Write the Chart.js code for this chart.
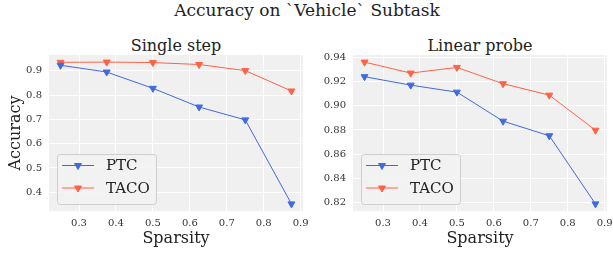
<!DOCTYPE html>
<html>
<head>
<meta charset="utf-8">
<script src="https://cdn.jsdelivr.net/npm/chart.js@4.4.0/dist/chart.umd.min.js"></script>
<style>
  body { margin: 0; background: #fff; width: 613px; height: 254px; position: relative; overflow: hidden;
         font-family: "DejaVu Serif", serif; color: #222; }
  .t { position: absolute; white-space: nowrap; transform: translate(-50%, -50%); line-height: 1; }
  canvas { position: absolute; top: 0; }
</style>
</head>
<body>
<div class="t" style="left:307px;top:10px;font-size:17px">Accuracy on `Vehicle` Subtask</div>
<div class="t" style="left:176px;top:46px;font-size:16px">Single step</div>
<div class="t" style="left:480px;top:46px;font-size:16px">Linear probe</div>
<canvas id="c1" width="316" height="254" style="left:0"></canvas>
<canvas id="c2" width="313" height="254" style="left:300px"></canvas>
<script>
// data
const seriesNames = ['PTC', 'TACO'];
const sparsity = [0.25, 0.375, 0.5, 0.625, 0.75, 0.875];
const singlePTC = [0.923, 0.895, 0.828, 0.751, 0.698, 0.352];
const singleTACO = [0.935, 0.936, 0.934, 0.926, 0.901, 0.817];
const probePTC = [0.9242, 0.9172, 0.9114, 0.8873, 0.8752, 0.8187];
const probeTACO = [0.9363, 0.9272, 0.9319, 0.9184, 0.9089, 0.8798];
const xTicks = [0.3, 0.4, 0.5, 0.6, 0.7, 0.8, 0.9];
const singleYTicks = [0.4, 0.5, 0.6, 0.7, 0.8, 0.9];
const probeYTicks = [0.82, 0.84, 0.86, 0.88, 0.90, 0.92, 0.94];

const colors = { ptc: '#4169e1', taco: '#ff6347', tick: '#333', text: '#222', bg: '#f0f0f0' };
const serif = '"DejaVu Serif", serif';

// grey plot background
const plotBg = {
  id: 'plotBg',
  beforeDraw(chart) {
    const { ctx, chartArea: a } = chart;
    ctx.save();
    ctx.fillStyle = colors.bg;
    ctx.fillRect(a.left, a.top, a.right - a.left, a.bottom - a.top);
    ctx.restore();
  }
};

// matplotlib-like legend inside the axes, lower left
const innerLegend = {
  id: 'innerLegend',
  afterDatasetsDraw(chart, args, opts) {
    const { ctx, chartArea: a } = chart;
    const x = Math.round(a.left + opts.dx), y = Math.round(a.bottom - opts.dy - opts.h);
    ctx.save();
    ctx.beginPath();
    ctx.roundRect(x + 0.5, y + 0.5, opts.w, opts.h, 3);
    ctx.fillStyle = 'rgba(242,242,242,0.85)';
    ctx.fill();
    ctx.strokeStyle = '#cfcfcf';
    ctx.lineWidth = 1;
    ctx.stroke();
    chart.data.datasets.forEach((ds, i) => {
      const ry = y + 11.5 + i * 22.5;
      ctx.strokeStyle = ds.borderColor;
      ctx.lineWidth = 1;
      ctx.beginPath();
      ctx.moveTo(x + 5, ry);
      ctx.lineTo(x + 37, ry);
      ctx.stroke();
      ctx.fillStyle = ds.borderColor;
      Chart.helpers.drawPoint(ctx, { pointStyle: 'triangle', rotation: 180, radius: 4, borderWidth: 1 }, x + 21, ry);
      ctx.fillStyle = colors.text;
      ctx.font = '15px ' + serif;
      ctx.textBaseline = 'middle';
      ctx.fillText(ds.label, x + 49, ry + 1);
    });
    ctx.restore();
  }
};

function makeChart(id, ptc, taco, yTicks, yMin, yMax, decimals, yTitle, g) {
  const ds = (label, vals, color) => ({
    label,
    data: sparsity.map((x, i) => ({ x, y: vals[i] })),
    borderColor: color,
    backgroundColor: color,
    borderWidth: 1,
    pointStyle: 'triangle',
    rotation: 180,
    pointRadius: 4,
    pointBorderWidth: 1,
    tension: 0
  });
  return new Chart(document.getElementById(id), {
    type: 'line',
    data: { datasets: [ds(seriesNames[0], ptc, colors.ptc), ds(seriesNames[1], taco, colors.taco)] },
    options: {
      responsive: false,
      animation: false,
      events: [],
      layout: { padding: { top: 55, right: g.right, left: 0, bottom: 0 } },
      plugins: {
        legend: { display: false },
        tooltip: { enabled: false },
        innerLegend: { dx: 7.5, dy: 7, w: 99, h: 50 }
      },
      scales: {
        x: {
          type: 'linear',
          min: 0.21875,
          max: 0.90625,
          afterBuildTicks: s => { s.ticks = xTicks.map(v => ({ value: v })); },
          afterFit: s => { s.height = 43; s.paddingLeft = 0; s.paddingRight = 0; },
          ticks: { callback: v => v.toFixed(1), font: { family: serif, size: 10 }, color: colors.tick,
                   padding: 6, maxRotation: 0, autoSkip: false },
          grid: { color: '#ffffff', lineWidth: 1, drawTicks: false },
          border: { display: false },
          title: { display: true, text: 'Sparsity', font: { family: serif, size: 16 }, color: colors.text,
                   padding: { top: 0, bottom: 6 } }
        },
        y: {
          min: yMin,
          max: yMax,
          afterBuildTicks: s => { s.ticks = yTicks.map(v => ({ value: v })); },
          afterFit: s => { s.width = g.yw; s.paddingTop = 0; s.paddingBottom = 0; },
          ticks: { callback: v => v.toFixed(decimals), font: { family: serif, size: 10 }, color: colors.tick,
                   padding: 7, autoSkip: false },
          grid: { color: '#ffffff', lineWidth: 1, drawTicks: false },
          border: { display: false },
          title: { display: !!yTitle, text: yTitle, font: { family: serif, size: 16 }, color: colors.text,
                   padding: { top: 6, bottom: 0 } }
        }
      }
    },
    plugins: [plotBg, innerLegend]
  });
}

makeChart('c1', singlePTC, singleTACO, singleYTicks, 0.3228, 0.9652, 1, 'Accuracy', { right: 13, yw: 49 });
makeChart('c2', probePTC, probeTACO, probeYTicks, 0.8128, 0.9422, 2, '', { right: 6, yw: 53 });
</script>
</body>
</html>
